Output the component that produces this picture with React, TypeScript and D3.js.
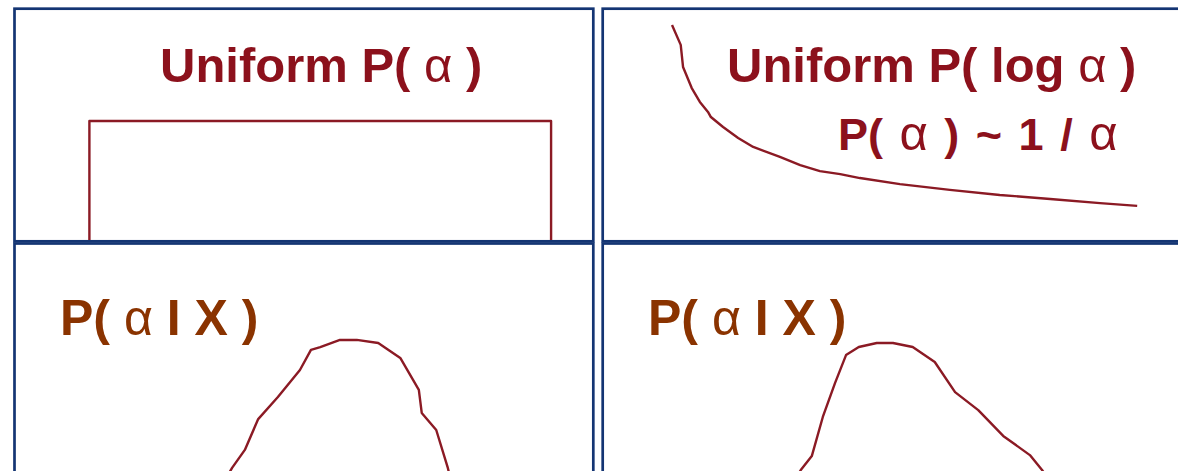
import React from "react";
import * as d3 from "d3";

// ---- data (alpha units 0..10, density units 0..10 per panel) ----
const uniformAlpha = [1.3, 1.3, 9.26, 9.26];
const uniformDensity = [0, 5.13, 5.13, 0];

const logUniformAlpha = [1.19, 1.34, 1.38, 1.53, 1.67, 1.81, 1.86, 2.07, 2.33, 2.59, 3.05, 3.4, 3.74, 4.09, 4.43, 5.12, 5.98, 6.84, 7.71, 8.57, 9.21];
const logUniformDensity = [9.27, 8.41, 7.46, 6.55, 5.95, 5.52, 5.3, 4.87, 4.4, 4.01, 3.58, 3.23, 2.97, 2.84, 2.67, 2.41, 2.16, 1.94, 1.77, 1.59, 1.47];

const postLeftAlpha = [3.71, 3.76, 3.98, 4.21, 4.55, 4.93, 5.12, 5.28, 5.62, 5.91, 6.28, 6.66, 6.98, 7.03, 7.28, 7.48, 7.5];
const postLeftDensity = [0.3, 0.51, 1.27, 2.57, 3.5, 4.64, 5.49, 5.61, 5.91, 5.91, 5.78, 5.15, 3.8, 2.83, 2.11, 0.51, 0.3];

const postRightAlpha = [3.38, 3.41, 3.6, 3.79, 4.0, 4.19, 4.41, 4.72, 5.0, 5.34, 5.72, 6.07, 6.47, 6.9, 7.36, 7.57, 7.62];
const postRightDensity = [0.3, 0.42, 1.01, 2.66, 4.09, 5.27, 5.61, 5.78, 5.78, 5.61, 4.98, 3.71, 2.95, 1.86, 1.05, 0.42, 0.25];

const titleTL = "Uniform P( ";
const titleTR = "Uniform P( log ";
const subTR = ["P( ", "α", " ) ~ 1 / ", "α"];
const postLabel = ["P( ", "α", " I X )"];

const BORDER = "#143573";
const CURVE = "#8b1a24";
const TITLE = "#8c111c";
const POST = "#8a3300";
const FONT = "'Liberation Sans', Arial, sans-serif";

type Panel = { x0: number; x1: number; y0: number; y1: number; base: number };

const panels: Panel[] = [
  { x0: 14.5, x1: 593.3, y0: 8.7, y1: 241.3, base: 240 },
  { x0: 602.7, x1: 1192, y0: 8.7, y1: 241.3, base: 240 },
  { x0: 14.5, x1: 593.3, y0: 243.5, y1: 490, base: 480 },
  { x0: 602.7, x1: 1192, y0: 243.5, y1: 490, base: 480 },
];

function scalesFor(p: Panel, left: number) {
  const x = d3.scaleLinear().domain([0, 10]).range([left, left + 580]);
  const top = p.base === 240 ? 8 : 243;
  const y = d3.scaleLinear().domain([0, 10]).range([p.base, top]);
  return { x, y };
}

function curvePath(xs: number[], ys: number[], p: Panel, left: number) {
  const { x, y } = scalesFor(p, left);
  const pts: [number, number][] = xs.map((v, i) => [v, ys[i]]);
  return d3
    .line<[number, number]>()
    .x((d) => x(d[0]))
    .y((d) => y(d[1]))(pts) as string;
}

export default function App() {
  const lefts = [14, 603, 14, 603];
  const series = [
    [uniformAlpha, uniformDensity],
    [logUniformAlpha, logUniformDensity],
    [postLeftAlpha, postLeftDensity],
    [postRightAlpha, postRightDensity],
  ];
  return (
    <svg
      width={1178}
      height={471}
      style={{ position: "absolute", left: 0, top: 0, background: "#fff" }}
      fontFamily={FONT}
    >
      <rect x={0} y={0} width={1178} height={471} fill="#fff" />
      {panels.map((p, i) => (
        <rect
          key={"b" + i}
          x={p.x0}
          y={p.y0}
          width={p.x1 - p.x0}
          height={p.y1 - p.y0}
          fill="none"
          stroke={BORDER}
          strokeWidth={2.7}
        />
      ))}
      {series.map((s, i) => (
        <path
          key={"c" + i}
          d={curvePath(s[0], s[1], panels[i], lefts[i])}
          fill="none"
          stroke={CURVE}
          strokeWidth={2.4}
          strokeLinejoin="round"
        />
      ))}
      <text x={160} y={82} fontSize={49} fontWeight="bold" fill={TITLE}>
        {titleTL}
        <tspan fontWeight="normal">α</tspan>
        {" )"}
      </text>
      <text x={727} y={82} fontSize={49} fontWeight="bold" fill={TITLE}>
        {titleTR}
        <tspan fontWeight="normal">α</tspan>
        {" )"}
      </text>
      <text x={838} y={150} fontSize={45} fontWeight="bold" fill={TITLE} wordSpacing={4}>
        {subTR[0]}
        <tspan fontWeight="normal" fontSize={49}>{subTR[1]}</tspan>
        {subTR[2]}
        <tspan fontWeight="normal" fontSize={49}>{subTR[3]}</tspan>
      </text>
      {[60, 648].map((x, i) => (
        <text key={"p" + i} x={x} y={335} fontSize={50} fontWeight="bold" fill={POST}>
          {postLabel[0]}
          <tspan fontWeight="normal">{postLabel[1]}</tspan>
          {postLabel[2]}
        </text>
      ))}
    </svg>
  );
}
